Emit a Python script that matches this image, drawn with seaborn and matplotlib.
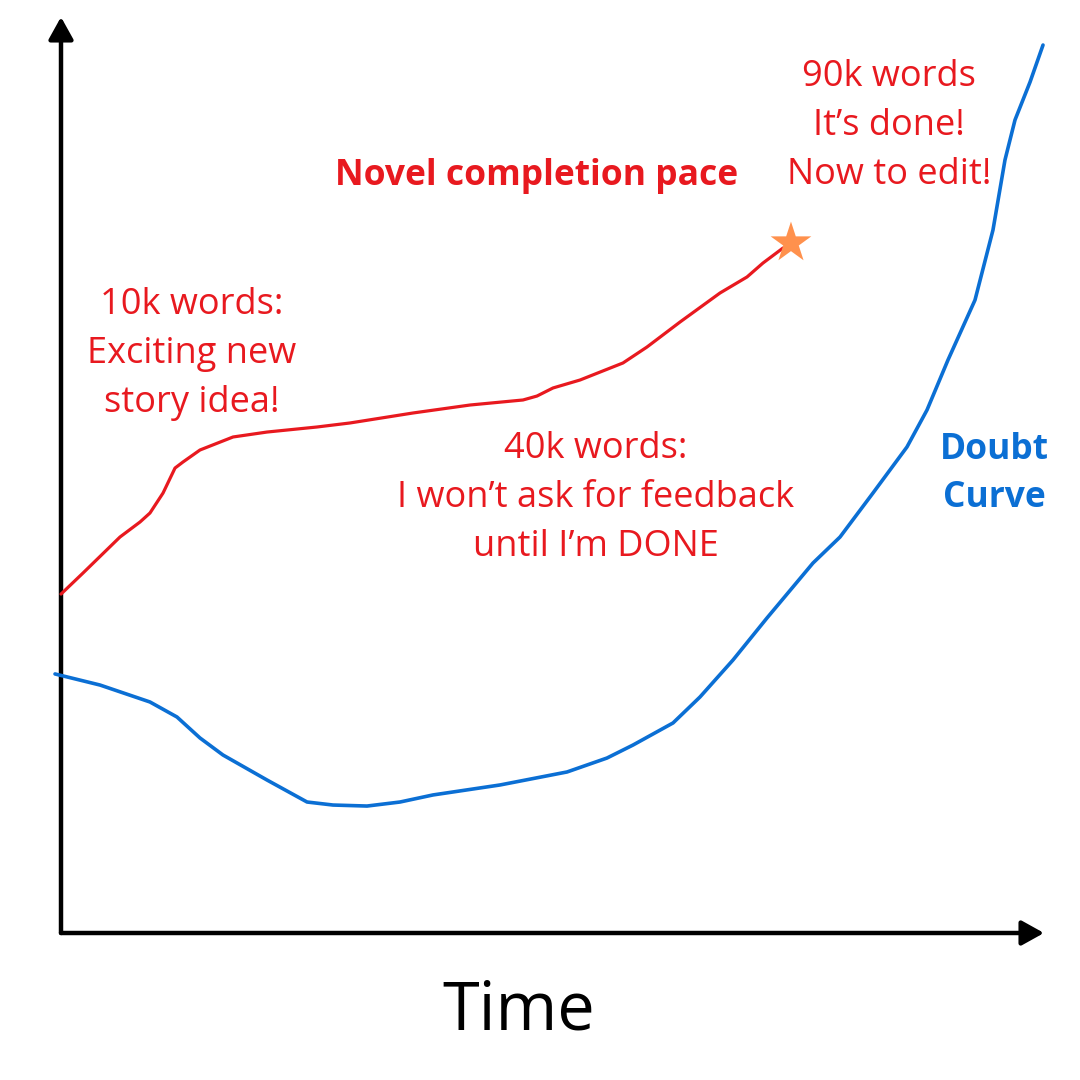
import matplotlib
matplotlib.use("Agg")
import matplotlib.pyplot as plt
import seaborn as sns
import pandas as pd

# ---- data (x = time, y = level, both 0-100) ----
pace_x = [0.0, 2.24, 6.0, 8.04, 9.05, 10.38, 11.6, 12.41, 14.14, 17.5, 20.96,
          26.04, 29.4, 35.81, 41.61, 47.0, 48.42, 50.05, 52.8, 57.17, 59.61,
          62.97, 67.04, 69.79, 71.41, 73.45]
pace_y = [37.0, 39.3, 43.23, 44.87, 45.85, 48.03, 50.76, 51.42, 52.73, 54.15,
          54.69, 55.24, 55.68, 56.77, 57.64, 58.19, 58.62, 59.5, 60.37, 62.23,
          63.97, 66.7, 69.87, 71.62, 73.14, 74.78]

doubt_x = [-0.61, 3.97, 9.05, 11.8, 14.14, 16.48, 20.96, 25.03, 27.67, 31.13,
           34.49, 37.84, 44.66, 51.48, 55.54, 58.19, 62.26, 65.0, 68.36, 71.82,
           76.5, 79.25, 82.6, 86.06, 88.1, 90.23, 92.98, 94.81, 96.03, 97.05,
           98.58, 99.9]
doubt_y = [28.28, 27.07, 25.22, 23.58, 21.29, 19.43, 16.7, 14.3, 13.97, 13.86,
           14.3, 15.07, 16.16, 17.58, 19.1, 20.52, 22.93, 25.76, 29.8, 34.39,
           40.39, 43.23, 48.03, 53.06, 57.1, 62.55, 69.1, 76.75, 84.39, 88.76,
           92.9, 96.94]

finish_x = [74.26]
finish_y = [75.33]

label_pace = "Novel completion pace"
label_doubt = "Doubt\nCurve"
note_10k = "10k words:\nExciting new\nstory idea!"
note_40k = "40k words:\nI won\u2019t ask for feedback\nuntil I\u2019m DONE"
note_90k = "90k words\nIt\u2019s done!\nNow to edit!"
x_label = "Time"

RED = "#E8191F"
BLUE = "#0B6FD4"
ORANGE = "#FF914D"

sns.set_theme(style="white")
plt.rcParams["font.family"] = ["Open Sans", "DejaVu Sans"]

fig = plt.figure(figsize=(10.8, 10.8), dpi=100)
fig.patch.set_facecolor("white")
ax = fig.add_axes([61 / 1080, 147 / 1080, 983 / 1080, 916 / 1080])
ax.set_xlim(0, 100)
ax.set_ylim(0, 100)
for s in ax.spines.values():
    s.set_visible(False)
ax.set_xticks([])
ax.set_yticks([])
ax.patch.set_alpha(0)

pace_df = pd.DataFrame({"t": pace_x, "v": pace_y})
doubt_df = pd.DataFrame({"t": doubt_x, "v": doubt_y})

sns.lineplot(data=doubt_df, x="t", y="v", ax=ax, color=BLUE, lw=2.6,
             sort=False, estimator=None, clip_on=False, zorder=3,
             solid_joinstyle="round", solid_capstyle="round")
sns.lineplot(data=pace_df, x="t", y="v", ax=ax, color=RED, lw=2.3,
             sort=False, estimator=None, clip_on=False, zorder=3,
             solid_joinstyle="round", solid_capstyle="round")
sns.scatterplot(x=finish_x, y=finish_y, ax=ax, marker="*", s=950,
                color=ORANGE, edgecolor="none", zorder=4, clip_on=False)
ax.set_xlabel("")
ax.set_ylabel("")

# axes drawn as arrows
arrow = dict(arrowstyle="-|>,head_length=0.9,head_width=0.5", lw=3.2,
             color="black", shrinkA=0, shrinkB=0, mutation_scale=15)
ax.annotate("", xy=(0, 1), xytext=(0, 0), xycoords="axes fraction",
            textcoords="axes fraction", arrowprops=arrow, zorder=2)
ax.annotate("", xy=(1, 0), xytext=(0, 0), xycoords="axes fraction",
            textcoords="axes fraction", arrowprops=arrow, zorder=2)

def ftext(px, py, s, **kw):
    fig.text(px / 1080, 1 - py / 1080, s, ha="center", va="center", **kw)

ftext(537, 176, label_pace, color=RED, fontsize=25.5, fontweight="bold")
ftext(889, 126, note_90k, color=RED, fontsize=26, linespacing=1.47)
ftext(192, 354, note_10k, color=RED, fontsize=26, linespacing=1.47)
ftext(596, 498, note_40k, color=RED, fontsize=26, linespacing=1.47)
ftext(994, 474, label_doubt, color=BLUE, fontsize=25.5, fontweight="bold",
      linespacing=1.47)
ftext(519, 1012, x_label, color="black", fontsize=48)

fig.savefig("out.png", dpi=100, facecolor="white")
